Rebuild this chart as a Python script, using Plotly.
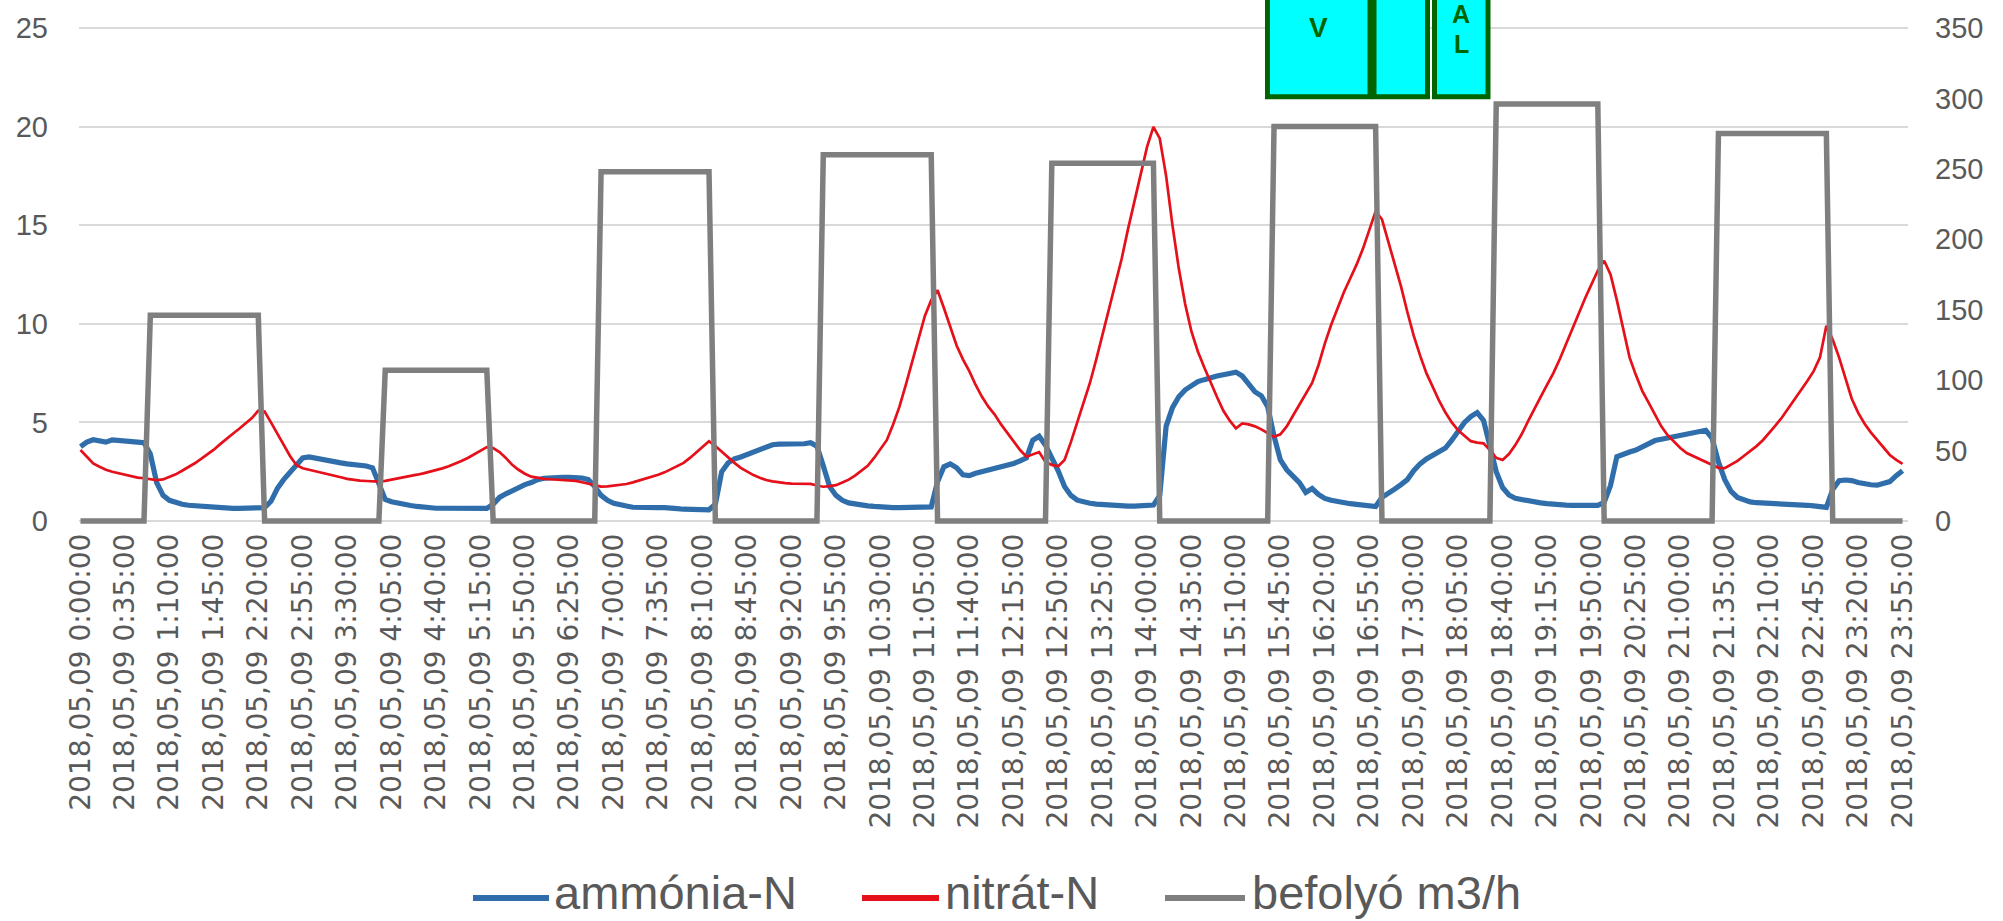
import plotly.graph_objects as go

# ---------------- data ----------------
CATEGORIES = [f"2018,05,09 {h}:{m:02d}:00" for h in range(24) for m in range(0, 60, 5)]
TICK_INDEX = list(range(0, 288, 7))
TICK_LABELS = [CATEGORIES[i] for i in TICK_INDEX]

AMMONIA_N = [
    3.77, 4.0, 4.12, 4.05, 4.0, 4.12, 4.08, 4.02, 4.0, 4.0, 3.97, 3.4,
    1.95, 1.3, 1.05, 0.92, 0.85, 0.8, 0.77, 0.75, 0.7, 0.68, 0.66, 0.65,
    0.64, 0.64, 0.64, 0.64, 0.65, 0.68, 1.0, 1.65, 2.1, 2.5, 2.9, 3.2,
    3.25, 3.18, 3.14, 3.1, 3.0, 2.95, 2.9, 2.87, 2.83, 2.79, 2.7, 1.9,
    1.1, 0.98, 0.9, 0.84, 0.79, 0.74, 0.7, 0.68, 0.65, 0.65, 0.64, 0.64,
    0.64, 0.64, 0.64, 0.64, 0.64, 0.85, 1.2, 1.38, 1.55, 1.7, 1.85, 1.95,
    2.1, 2.17, 2.2, 2.22, 2.22, 2.21, 2.2, 2.18, 2.1, 1.75, 1.3, 1.05,
    0.9, 0.81, 0.76, 0.7, 0.68, 0.68, 0.68, 0.68, 0.68, 0.68, 0.63, 0.6,
    0.58, 0.57, 0.56, 0.57, 0.85, 2.5, 2.95, 3.15, 3.25, 3.38, 3.5, 3.65,
    3.8, 3.87, 3.9, 3.9, 3.9, 3.9, 3.92, 3.97, 3.8, 2.8, 1.75, 1.3,
    1.05, 0.92, 0.85, 0.8, 0.77, 0.74, 0.7, 0.68, 0.68, 0.68, 0.68, 0.68,
    0.68, 0.68, 0.72, 2.0, 2.75, 2.9, 2.7, 2.35, 2.3, 2.42, 2.5, 2.6,
    2.65, 2.72, 2.82, 2.92, 3.05, 3.2, 4.1, 4.3, 3.85, 3.2, 2.55, 1.75,
    1.3, 1.06, 0.97, 0.9, 0.86, 0.83, 0.8, 0.78, 0.77, 0.76, 0.76, 0.77,
    0.79, 0.81, 1.3, 4.8, 5.75, 6.3, 6.65, 6.9, 7.07, 7.17, 7.28, 7.35,
    7.42, 7.48, 7.55, 7.35, 6.9, 6.55, 6.35, 5.8, 4.3, 3.1, 2.6, 2.25,
    1.95, 1.45, 1.65, 1.35, 1.15, 1.05, 0.98, 0.93, 0.88, 0.85, 0.83, 0.8,
    0.74, 1.2, 1.45, 1.62, 1.85, 2.1, 2.55, 2.9, 3.15, 3.35, 3.55, 3.7,
    4.1, 4.6, 5.0, 5.3, 5.5, 5.1, 3.8, 2.5, 1.7, 1.32, 1.15, 1.08,
    1.0, 0.95, 0.92, 0.88, 0.84, 0.81, 0.81, 0.8, 0.8, 0.8, 0.8, 0.8,
    0.95, 1.8, 3.26, 3.4, 3.5, 3.6, 3.75, 3.95, 4.08, 4.15, 4.22, 4.28,
    4.33, 4.38, 4.44, 4.52, 4.6, 4.2, 3.0, 2.1, 1.5, 1.2, 1.05, 0.97,
    0.93, 0.92, 0.9, 0.89, 0.87, 0.86, 0.84, 0.82, 0.8, 0.77, 0.73, 0.69,
    1.6, 2.05, 2.08, 2.05, 1.95, 1.88, 1.84, 1.82, 1.88, 2.0, 2.3, 2.55,
]

NITRAT_N = [
    3.6, 3.26, 2.92, 2.75, 2.6, 2.5, 2.42, 2.35, 2.28, 2.2, 2.17, 2.12,
    2.08, 2.11, 2.22, 2.37, 2.55, 2.73, 2.93, 3.15, 3.38, 3.62, 3.9, 4.19,
    4.43, 4.68, 4.95, 5.22, 5.6, 5.55, 5.0, 4.45, 3.9, 3.3, 2.84, 2.68,
    2.6, 2.53, 2.46, 2.38, 2.3, 2.22, 2.14, 2.08, 2.05, 2.03, 2.01, 2.0,
    2.04, 2.1, 2.15, 2.2, 2.28, 2.35, 2.42, 2.5, 2.58, 2.67, 2.78, 2.9,
    3.05, 3.2, 3.38, 3.55, 3.75, 3.7, 3.5, 3.2, 2.85, 2.6, 2.4, 2.25,
    2.18, 2.14, 2.12, 2.1, 2.09, 2.08, 2.04, 1.97, 1.9, 1.82, 1.75, 1.76,
    1.79, 1.82, 1.88, 1.96, 2.05, 2.15, 2.25, 2.35, 2.47, 2.62, 2.78, 2.95,
    3.2, 3.5, 3.8, 4.05, 3.8, 3.5, 3.2, 2.95, 2.7, 2.5, 2.33, 2.2,
    2.08, 2.01, 1.96, 1.92, 1.9, 1.89, 1.88, 1.88, 1.8, 1.74, 1.77, 1.82,
    1.95, 2.1, 2.3, 2.55, 2.8, 3.2, 3.65, 4.1, 4.9, 5.8, 6.9, 8.1,
    9.3, 10.4, 11.2, 11.7, 10.8, 9.8, 8.9, 8.2, 7.6, 6.9, 6.3, 5.8,
    5.4, 4.9, 4.45, 4.0, 3.6, 3.26, 3.4, 3.5, 3.0, 2.85, 2.78, 3.1,
    4.0, 5.0, 6.0, 7.0, 8.2, 9.5, 10.8, 12.0, 13.3, 14.8, 16.2, 17.6,
    18.97, 19.98, 19.4, 17.5, 15.0, 12.8, 11.0, 9.6, 8.6, 7.8, 7.0, 6.3,
    5.6, 5.1, 4.7, 4.95, 4.9, 4.8, 4.65, 4.45, 4.27, 4.4, 4.8, 5.35,
    5.9, 6.5, 7.0, 7.9, 9.0, 9.95, 10.8, 11.6, 12.3, 13.0, 13.8, 14.7,
    15.7, 15.3, 14.2, 13.0, 11.9, 10.6, 9.4, 8.4, 7.5, 6.8, 6.1, 5.5,
    5.0, 4.6, 4.3, 4.05, 3.98, 3.94, 3.6, 3.2, 3.1, 3.4, 3.85, 4.4,
    5.05, 5.7, 6.3, 6.9, 7.5, 8.2, 9.0, 9.8, 10.5, 11.3, 12.0, 12.7,
    13.2, 12.5, 11.2, 9.8, 8.3, 7.4, 6.6, 6.0, 5.4, 4.8, 4.35, 4.0,
    3.7, 3.45, 3.3, 3.15, 3.0, 2.85, 2.7, 2.68, 2.85, 3.05, 3.3, 3.55,
    3.8, 4.1, 4.45, 4.85, 5.25, 5.7, 6.15, 6.6, 7.1, 7.6, 8.3, 9.9,
    9.2, 8.3, 7.2, 6.2, 5.5, 4.95, 4.5, 4.1, 3.7, 3.35, 3.1, 2.9,
]

BEFOLYO_M3H = [
    0, 0, 0, 0, 0, 0, 0, 0, 0, 0, 0, 146,
    146, 146, 146, 146, 146, 146, 146, 146, 146, 146, 146, 146,
    146, 146, 146, 146, 146, 0, 0, 0, 0, 0, 0, 0,
    0, 0, 0, 0, 0, 0, 0, 0, 0, 0, 0, 0,
    107, 107, 107, 107, 107, 107, 107, 107, 107, 107, 107, 107,
    107, 107, 107, 107, 107, 0, 0, 0, 0, 0, 0, 0,
    0, 0, 0, 0, 0, 0, 0, 0, 0, 0, 248, 248,
    248, 248, 248, 248, 248, 248, 248, 248, 248, 248, 248, 248,
    248, 248, 248, 248, 0, 0, 0, 0, 0, 0, 0, 0,
    0, 0, 0, 0, 0, 0, 0, 0, 0, 260, 260, 260,
    260, 260, 260, 260, 260, 260, 260, 260, 260, 260, 260, 260,
    260, 260, 260, 0, 0, 0, 0, 0, 0, 0, 0, 0,
    0, 0, 0, 0, 0, 0, 0, 0, 0, 254, 254, 254,
    254, 254, 254, 254, 254, 254, 254, 254, 254, 254, 254, 254,
    254, 254, 0, 0, 0, 0, 0, 0, 0, 0, 0, 0,
    0, 0, 0, 0, 0, 0, 0, 0, 280, 280, 280, 280,
    280, 280, 280, 280, 280, 280, 280, 280, 280, 280, 280, 280,
    280, 0, 0, 0, 0, 0, 0, 0, 0, 0, 0, 0,
    0, 0, 0, 0, 0, 0, 0, 296, 296, 296, 296, 296,
    296, 296, 296, 296, 296, 296, 296, 296, 296, 296, 296, 296,
    0, 0, 0, 0, 0, 0, 0, 0, 0, 0, 0, 0,
    0, 0, 0, 0, 0, 0, 275, 275, 275, 275, 275, 275,
    275, 275, 275, 275, 275, 275, 275, 275, 275, 275, 275, 275,
    0, 0, 0, 0, 0, 0, 0, 0, 0, 0, 0, 0,
]

SERIES_NAMES = ["ammónia-N", "nitrát-N", "befolyó m3/h"]
LEFT_TICKS = [0, 5, 10, 15, 20, 25]
RIGHT_TICKS = [0, 50, 100, 150, 200, 250, 300, 350]
BOX_TEXTS = ["V", "A", "L"]

# ---------------- style ----------------
BLUE = "#2F6EAA"
RED = "#E5101A"
GRAY = "#7F7F7F"
TXT = "#595959"
GRID = "#D9D9D9"
DKGREEN = "#006400"
CYAN = "#00FFFF"

W, H = 2003, 921
ML, MR, MT, MB = 79, 95, 24, 396
PW = W - ML - MR
PH = H - MT - MB


def px(xp):
    return (xp - ML) / PW


def py(yp):
    return (H - MB - yp) / PH


fig = go.Figure()
fig.add_trace(go.Scatter(x=CATEGORIES, y=AMMONIA_N, mode="lines", name=SERIES_NAMES[0],
                         line=dict(color=BLUE, width=5.2), yaxis="y"))
fig.add_trace(go.Scatter(x=CATEGORIES, y=NITRAT_N, mode="lines", name=SERIES_NAMES[1],
                         line=dict(color=RED, width=2.7), yaxis="y"))
fig.add_trace(go.Scatter(x=CATEGORIES, y=BEFOLYO_M3H, mode="lines", name=SERIES_NAMES[2],
                         line=dict(color=GRAY, width=5.5), yaxis="y2"))

fig.update_layout(
    width=W, height=H, autosize=False,
    margin=dict(l=ML, r=MR, t=MT, b=MB, pad=0),
    plot_bgcolor="white", paper_bgcolor="white",
    showlegend=False,
    xaxis=dict(type="category", range=[-0.236, 287.86], tickmode="array",
               tickvals=TICK_LABELS, ticktext=TICK_LABELS, tickangle=-90,
               showgrid=False, zeroline=False, showline=False, ticks="",
               tickfont=dict(family="DejaVu Sans", size=28, color=TXT),
               ticklabelstandoff=2),
    yaxis=dict(range=[-0.2, 25.2], tickmode="array", tickvals=LEFT_TICKS,
               showgrid=True, gridcolor=GRID, gridwidth=1.5, zeroline=False,
               showline=False, ticks="",
               tickfont=dict(family="Liberation Sans", size=29, color=TXT),
               ticklabelstandoff=30),
    yaxis2=dict(range=[-2.8, 352.8], overlaying="y", side="right", tickmode="array",
                tickvals=RIGHT_TICKS, showgrid=False, zeroline=False, showline=False,
                ticks="", tickfont=dict(family="Liberation Sans", size=29, color=TXT),
                ticklabelstandoff=26),
)

# cyan boxes at the top
boxes = [(1267.5, 1370), (1374, 1427.5), (1434.5, 1488)]
for x0, x1 in boxes:
    fig.add_shape(type="rect", xref="paper", yref="paper",
                  x0=px(x0), x1=px(x1), y0=py(96.8), y1=py(-20),
                  fillcolor=CYAN, line=dict(color=DKGREEN, width=5), layer="above")

box_text_pos = [(1318, 27.5), (1461, 14), (1461, 44)]
box_text_size = [28, 25, 25]
for t, (xx, yy), fs in zip(BOX_TEXTS, box_text_pos, box_text_size):
    fig.add_annotation(text=f"<b>{t}</b>", xref="paper", yref="paper", x=px(xx), y=py(yy),
                       xanchor="center", yanchor="middle", showarrow=False,
                       font=dict(family="Liberation Sans", size=fs, color=DKGREEN))

# legend (drawn below the axis labels)
legend_items = [
    (SERIES_NAMES[0], BLUE, 473, 549, 552),
    (SERIES_NAMES[1], RED, 862, 939, 943),
    (SERIES_NAMES[2], GRAY, 1165, 1245, 1250),
]
for name, col, lx0, lx1, tx in legend_items:
    fig.add_shape(type="line", xref="paper", yref="paper",
                  x0=px(lx0), x1=px(lx1), y0=py(898), y1=py(898),
                  line=dict(color=col, width=6))
    fig.add_annotation(text=name, xref="paper", yref="paper", x=px(tx), y=py(892),
                       xanchor="left", yanchor="middle", showarrow=False,
                       font=dict(family="Liberation Sans", size=47, color=TXT))

fig.write_html("out.html", config={"displayModeBar": False},
               post_script="document.body.style.margin='0';document.body.style.overflow='hidden';")
